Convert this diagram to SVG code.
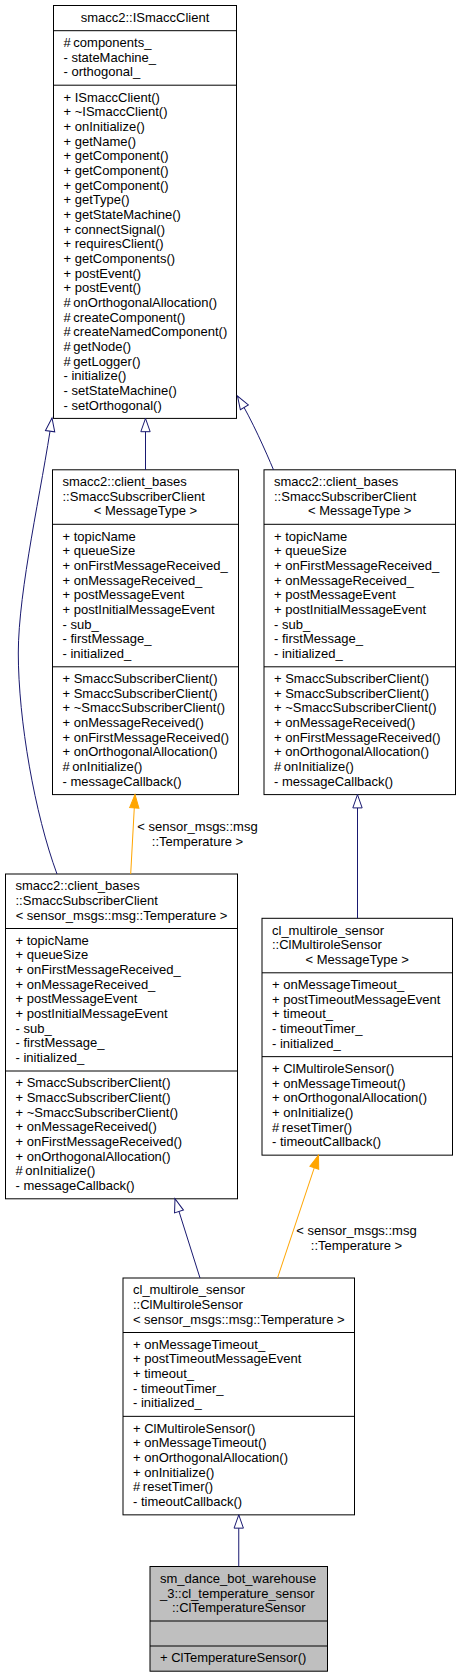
<svg xmlns="http://www.w3.org/2000/svg" width="458" height="1677" viewBox="0 0 458 1677">
<style>
.t{font-family:"Liberation Sans",Arial,Helvetica,sans-serif;font-size:13px;fill:#000}
.c{text-anchor:middle}
.box{fill:#fff;stroke:#000;stroke-width:1}
.root{fill:#bfbfbf;stroke:#000;stroke-width:1}
.div{stroke:#000;stroke-width:1}
.inh{fill:none;stroke:#191970;stroke-width:1;marker-end:url(#ah)}
.tpl{fill:none;stroke:#ffa500;stroke-width:1;marker-end:url(#ao)}
</style>
<defs>
<marker id="ah" markerUnits="userSpaceOnUse" markerWidth="14" markerHeight="10" viewBox="0 0 14 10" refX="13.3" refY="4.67" orient="auto" overflow="visible"><path d="M0,0 L13.3,4.67 L0,9.33 Z" fill="#fff" stroke="#191970" stroke-width="1"/></marker>
<marker id="ao" markerUnits="userSpaceOnUse" markerWidth="14" markerHeight="10" viewBox="0 0 14 10" refX="13.3" refY="4.67" orient="auto" overflow="visible"><path d="M0,0 L13.3,4.67 L0,9.33 Z" fill="#ffa500" stroke="#ffa500" stroke-width="1"/></marker>
</defs>
<rect width="458" height="1677" fill="#fff"/>

<g id="node_ISmaccClient">
<rect class="box" x="53.5" y="5.5" width="183" height="412.9"/>
<line class="div" x1="53.5" y1="30.7" x2="236.5" y2="30.7"/>
<line class="div" x1="53.5" y1="85.2" x2="236.5" y2="85.2"/>
<text class="t c" x="145" y="21.8">smacc2::ISmaccClient</text>
<text class="t" x="63.5" y="47"><tspan x="63.5">#&#8201;components_</tspan><tspan x="63.5" dy="14.67">- stateMachine_</tspan><tspan x="63.5" dy="14.67">- orthogonal_</tspan></text>
<text class="t" x="63.5" y="101.5"><tspan x="63.5">+ ISmaccClient()</tspan><tspan x="63.5" dy="14.67">+ ~ISmaccClient()</tspan><tspan x="63.5" dy="14.67">+ onInitialize()</tspan><tspan x="63.5" dy="14.67">+ getName()</tspan><tspan x="63.5" dy="14.67">+ getComponent()</tspan><tspan x="63.5" dy="14.67">+ getComponent()</tspan><tspan x="63.5" dy="14.67">+ getComponent()</tspan><tspan x="63.5" dy="14.67">+ getType()</tspan><tspan x="63.5" dy="14.67">+ getStateMachine()</tspan><tspan x="63.5" dy="14.67">+ connectSignal()</tspan><tspan x="63.5" dy="14.67">+ requiresClient()</tspan><tspan x="63.5" dy="14.67">+ getComponents()</tspan><tspan x="63.5" dy="14.67">+ postEvent()</tspan><tspan x="63.5" dy="14.67">+ postEvent()</tspan><tspan x="63.5" dy="14.67">#&#8201;onOrthogonalAllocation()</tspan><tspan x="63.5" dy="14.67">#&#8201;createComponent()</tspan><tspan x="63.5" dy="14.67">#&#8201;createNamedComponent()</tspan><tspan x="63.5" dy="14.67">#&#8201;getNode()</tspan><tspan x="63.5" dy="14.67">#&#8201;getLogger()</tspan><tspan x="63.5" dy="14.67">- initialize()</tspan><tspan x="63.5" dy="14.67">- setStateMachine()</tspan><tspan x="63.5" dy="14.67">- setOrthogonal()</tspan></text>
</g>

<g id="node_SmaccSubscriberClient_L">
<rect class="box" x="52.5" y="469.8" width="186" height="324.8"/>
<line class="div" x1="52.5" y1="524.3" x2="238.5" y2="524.3"/>
<line class="div" x1="52.5" y1="666.8" x2="238.5" y2="666.8"/>
<text class="t" x="62.5" y="486.1">smacc2::client_bases</text>
<text class="t" x="62.5" y="500.8">::SmaccSubscriberClient</text>
<text class="t c" x="145.5" y="515.4">&lt; MessageType &gt;</text>
<text class="t" x="62.5" y="540.6"><tspan x="62.5">+ topicName</tspan><tspan x="62.5" dy="14.67">+ queueSize</tspan><tspan x="62.5" dy="14.67">+ onFirstMessageReceived_</tspan><tspan x="62.5" dy="14.67">+ onMessageReceived_</tspan><tspan x="62.5" dy="14.67">+ postMessageEvent</tspan><tspan x="62.5" dy="14.67">+ postInitialMessageEvent</tspan><tspan x="62.5" dy="14.67">- sub_</tspan><tspan x="62.5" dy="14.67">- firstMessage_</tspan><tspan x="62.5" dy="14.67">- initialized_</tspan></text>
<text class="t" x="62.5" y="683.1"><tspan x="62.5">+ SmaccSubscriberClient()</tspan><tspan x="62.5" dy="14.67">+ SmaccSubscriberClient()</tspan><tspan x="62.5" dy="14.67">+ ~SmaccSubscriberClient()</tspan><tspan x="62.5" dy="14.67">+ onMessageReceived()</tspan><tspan x="62.5" dy="14.67">+ onFirstMessageReceived()</tspan><tspan x="62.5" dy="14.67">+ onOrthogonalAllocation()</tspan><tspan x="62.5" dy="14.67">#&#8201;onInitialize()</tspan><tspan x="62.5" dy="14.67">- messageCallback()</tspan></text>
</g>

<g id="node_SmaccSubscriberClient_R">
<rect class="box" x="264" y="469.8" width="191.5" height="324.8"/>
<line class="div" x1="264" y1="524.3" x2="455.5" y2="524.3"/>
<line class="div" x1="264" y1="666.8" x2="455.5" y2="666.8"/>
<text class="t" x="274" y="486.1">smacc2::client_bases</text>
<text class="t" x="274" y="500.8">::SmaccSubscriberClient</text>
<text class="t c" x="359.75" y="515.4">&lt; MessageType &gt;</text>
<text class="t" x="274" y="540.6"><tspan x="274">+ topicName</tspan><tspan x="274" dy="14.67">+ queueSize</tspan><tspan x="274" dy="14.67">+ onFirstMessageReceived_</tspan><tspan x="274" dy="14.67">+ onMessageReceived_</tspan><tspan x="274" dy="14.67">+ postMessageEvent</tspan><tspan x="274" dy="14.67">+ postInitialMessageEvent</tspan><tspan x="274" dy="14.67">- sub_</tspan><tspan x="274" dy="14.67">- firstMessage_</tspan><tspan x="274" dy="14.67">- initialized_</tspan></text>
<text class="t" x="274" y="683.1"><tspan x="274">+ SmaccSubscriberClient()</tspan><tspan x="274" dy="14.67">+ SmaccSubscriberClient()</tspan><tspan x="274" dy="14.67">+ ~SmaccSubscriberClient()</tspan><tspan x="274" dy="14.67">+ onMessageReceived()</tspan><tspan x="274" dy="14.67">+ onFirstMessageReceived()</tspan><tspan x="274" dy="14.67">+ onOrthogonalAllocation()</tspan><tspan x="274" dy="14.67">#&#8201;onInitialize()</tspan><tspan x="274" dy="14.67">- messageCallback()</tspan></text>
</g>

<g id="node_SmaccSubscriberClient_Temperature">
<rect class="box" x="5.5" y="874" width="232" height="324.8"/>
<line class="div" x1="5.5" y1="928.5" x2="237.5" y2="928.5"/>
<line class="div" x1="5.5" y1="1071" x2="237.5" y2="1071"/>
<text class="t" x="15.5" y="890.3">smacc2::client_bases</text>
<text class="t" x="15.5" y="905">::SmaccSubscriberClient</text>
<text class="t c" x="121.5" y="919.6">&lt; sensor_msgs::msg::Temperature &gt;</text>
<text class="t" x="15.5" y="944.8"><tspan x="15.5">+ topicName</tspan><tspan x="15.5" dy="14.67">+ queueSize</tspan><tspan x="15.5" dy="14.67">+ onFirstMessageReceived_</tspan><tspan x="15.5" dy="14.67">+ onMessageReceived_</tspan><tspan x="15.5" dy="14.67">+ postMessageEvent</tspan><tspan x="15.5" dy="14.67">+ postInitialMessageEvent</tspan><tspan x="15.5" dy="14.67">- sub_</tspan><tspan x="15.5" dy="14.67">- firstMessage_</tspan><tspan x="15.5" dy="14.67">- initialized_</tspan></text>
<text class="t" x="15.5" y="1087.3"><tspan x="15.5">+ SmaccSubscriberClient()</tspan><tspan x="15.5" dy="14.67">+ SmaccSubscriberClient()</tspan><tspan x="15.5" dy="14.67">+ ~SmaccSubscriberClient()</tspan><tspan x="15.5" dy="14.67">+ onMessageReceived()</tspan><tspan x="15.5" dy="14.67">+ onFirstMessageReceived()</tspan><tspan x="15.5" dy="14.67">+ onOrthogonalAllocation()</tspan><tspan x="15.5" dy="14.67">#&#8201;onInitialize()</tspan><tspan x="15.5" dy="14.67">- messageCallback()</tspan></text>
</g>

<g id="node_ClMultiroleSensor_T">
<rect class="box" x="262" y="918.3" width="190.5" height="236.85"/>
<line class="div" x1="262" y1="972.8" x2="452.5" y2="972.8"/>
<line class="div" x1="262" y1="1056.65" x2="452.5" y2="1056.65"/>
<text class="t" x="272" y="934.6">cl_multirole_sensor</text>
<text class="t" x="272" y="949.3">::ClMultiroleSensor</text>
<text class="t c" x="357.25" y="963.9">&lt; MessageType &gt;</text>
<text class="t" x="272" y="989.1"><tspan x="272">+ onMessageTimeout_</tspan><tspan x="272" dy="14.67">+ postTimeoutMessageEvent</tspan><tspan x="272" dy="14.67">+ timeout_</tspan><tspan x="272" dy="14.67">- timeoutTimer_</tspan><tspan x="272" dy="14.67">- initialized_</tspan></text>
<text class="t" x="272" y="1072.95"><tspan x="272">+ ClMultiroleSensor()</tspan><tspan x="272" dy="14.67">+ onMessageTimeout()</tspan><tspan x="272" dy="14.67">+ onOrthogonalAllocation()</tspan><tspan x="272" dy="14.67">+ onInitialize()</tspan><tspan x="272" dy="14.67">#&#8201;resetTimer()</tspan><tspan x="272" dy="14.67">- timeoutCallback()</tspan></text>
</g>

<g id="node_ClMultiroleSensor_Temperature">
<rect class="box" x="123" y="1278" width="231.5" height="236.85"/>
<line class="div" x1="123" y1="1332.5" x2="354.5" y2="1332.5"/>
<line class="div" x1="123" y1="1416.35" x2="354.5" y2="1416.35"/>
<text class="t" x="133" y="1294.3">cl_multirole_sensor</text>
<text class="t" x="133" y="1309">::ClMultiroleSensor</text>
<text class="t c" x="238.75" y="1323.6">&lt; sensor_msgs::msg::Temperature &gt;</text>
<text class="t" x="133" y="1348.8"><tspan x="133">+ onMessageTimeout_</tspan><tspan x="133" dy="14.67">+ postTimeoutMessageEvent</tspan><tspan x="133" dy="14.67">+ timeout_</tspan><tspan x="133" dy="14.67">- timeoutTimer_</tspan><tspan x="133" dy="14.67">- initialized_</tspan></text>
<text class="t" x="133" y="1432.65"><tspan x="133">+ ClMultiroleSensor()</tspan><tspan x="133" dy="14.67">+ onMessageTimeout()</tspan><tspan x="133" dy="14.67">+ onOrthogonalAllocation()</tspan><tspan x="133" dy="14.67">+ onInitialize()</tspan><tspan x="133" dy="14.67">#&#8201;resetTimer()</tspan><tspan x="133" dy="14.67">- timeoutCallback()</tspan></text>
</g>

<g id="node_ClTemperatureSensor">
<rect class="root" x="150" y="1566.5" width="177.5" height="104.7"/>
<line class="div" x1="150" y1="1621" x2="327.5" y2="1621"/>
<line class="div" x1="150" y1="1646" x2="327.5" y2="1646"/>
<text class="t" x="160" y="1582.8">sm_dance_bot_warehouse</text>
<text class="t" x="160" y="1597.5">_3::cl_temperature_sensor</text>
<text class="t c" x="238.75" y="1612.1">::ClTemperatureSensor</text>
<text class="t" x="160" y="1662.3">+ ClTemperatureSensor()</text>
</g>

<g id="connectors">
<path class="inh" d="M145.5,469.8 L145.5,418.4"/>
<path class="inh" d="M273.5,469.8 C266,452 252,420 237.5,396"/>
<path class="inh" d="M57,874 C34.8,814 18.3,720 18.3,653 C18.3,590 42,488 52,418"/>
<path class="tpl" d="M130.7,874 L135,794.6"/>
<text class="t c" x="197.5" y="831">&lt; sensor_msgs::msg</text>
<text class="t c" x="197.5" y="845.5">::Temperature &gt;</text>
<path class="inh" d="M357.5,918.3 L357.5,794.6"/>
<path class="inh" d="M200,1278 L175,1198.8"/>
<path class="tpl" d="M277.5,1278 L318.5,1155.1"/>
<text class="t c" x="356.5" y="1235">&lt; sensor_msgs::msg</text>
<text class="t c" x="356.5" y="1249.5">::Temperature &gt;</text>
<path class="inh" d="M238.75,1566.5 L238.75,1514.85"/>
</g>
</svg>
